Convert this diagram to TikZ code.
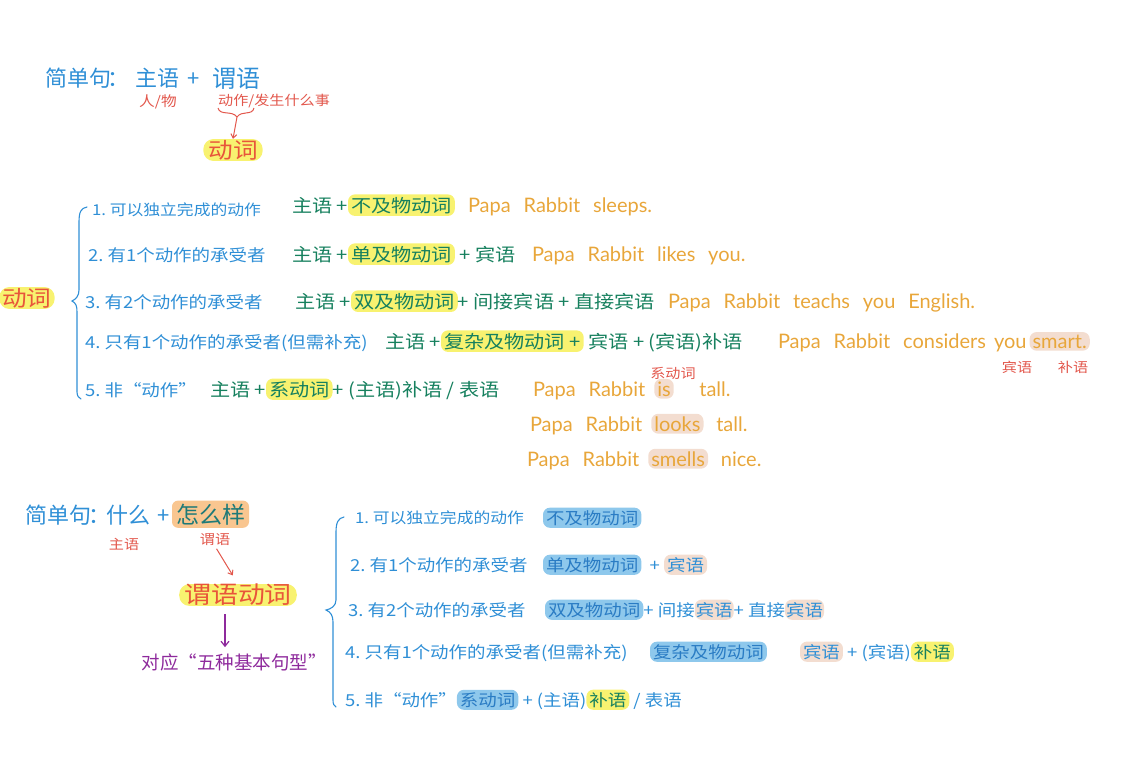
\documentclass[tikz,border=0pt]{standalone}
\usepackage{fontspec}
\setmainfont[FakeStretch=1.12]{Noto Sans CJK SC}
\newfontfamily\cjkn{Noto Sans CJK SC}
\newfontfamily\en[WordSpace=2.5]{Lato}
\usetikzlibrary{arrows.meta}
\definecolor{cblue}{HTML}{2F8FD6}
\definecolor{cblued}{HTML}{2A7CC4}
\definecolor{cred}{HTML}{E2574C}
\definecolor{cverb}{HTML}{E8553A}
\definecolor{cgreen}{HTML}{16805E}
\definecolor{cteal}{HTML}{1F7A78}
\definecolor{corange}{HTML}{E8A63A}
\definecolor{cpurple}{HTML}{8E2A9C}
\definecolor{hyel}{HTML}{F8F270}
\definecolor{hpeach}{HTML}{F3DDD0}
\definecolor{horange}{HTML}{F9C690}
\definecolor{hblue}{HTML}{8EC8EC}
\begin{document}
\begin{tikzpicture}[x=1pt,y=-1pt,
  seg/.style={inner sep=0pt, outer sep=0pt, anchor=base west},
  hd/.style={seg, text=cblue, font=\cjkn\fontsize{22}{22}\selectfont},
  it/.style={seg, text=cblue, font=\fontsize{16.5}{16.5}\selectfont},
  itone/.style={seg, text=cblue, font=\fontsize{15}{15}\selectfont},
  fm/.style={seg, text=cgreen, font=\fontsize{18}{18}\selectfont},
  ex/.style={seg, text=corange, font=\en\fontsize{20}{20}\selectfont},
  note/.style={inner sep=0pt, text=cred, font=\fontsize{13.5}{13.5}\selectfont},
  hY/.style={fill=hyel, rounded corners=7pt, inner xsep=3pt, inner ysep=2.5pt},
  hP/.style={fill=hpeach, rounded corners=7pt, inner xsep=3pt, inner ysep=2.5pt},
  hB/.style={fill=hblue, text=cblued, rounded corners=7pt, inner xsep=3pt, inner ysep=2.5pt},
  hO/.style={fill=horange, rounded corners=6pt, inner xsep=4pt, inner ysep=3pt},
  big/.style={inner xsep=5pt, inner ysep=1pt, text=cverb, font=\fontsize{22}{22}\selectfont},
  bracel/.style={draw=cblue, line width=1.1pt, line cap=round},
  redarr/.style={draw=cred, line width=1pt, -{Straight Barb[length=4pt,width=6pt]}},
  purarr/.style={draw=cpurple, line width=1.2pt, -{Straight Barb[length=5pt,width=8pt]}}]
\useasboundingbox (0,0) rectangle (1123,774);

% ---------- top ----------
\node[hd] (t1) at (45,86) {简单句};
\node[hd] (t1c) at (107,86) {：};
\node[hd] (t2) at (135,86) {主语};
\node[hd] (t3) at (187,86) {+};
\node[hd, font=\cjkn\fontsize{24}{24}\selectfont] (t4) at (212,87) {谓语};
\node[note, font=\fontsize{14}{14}\selectfont] (t2n) at (158,102) {人/物};
\node[note, anchor=west, font=\fontsize{13.5}{13.5}\selectfont] (t4n) at (218,101) {动作/发生什么事};
\draw[draw=cred, line width=1pt] (218,108) .. controls (220,116) and (232,110) .. (237,117) .. controls (242,110) and (252,116) .. (254,108);
\coordinate (tip) at (237,117);
\node[big, fill=hyel, rounded corners=10pt] (dc) at (233,150) {动词};
\draw[redarr] (tip) -- (dc.north);

% ---------- middle ----------
\node[big, fill=hyel, rounded corners=10pt, inner xsep=3pt] (dv) at (27,298) {动词};
\draw[bracel] (87,207) .. controls (81,208) and (79,212) .. (79,222) -- (79,290) .. controls (79,296) and (76,299) .. (72,301) .. controls (76,303) and (77,306) .. (77,312) -- (77,392) .. controls (77,396) and (79,398) .. (81,399);

\node[itone] (m1) at (92,215) {1.\ 可以独立完成的动作};
\node[fm] (f1a) at (292,212) {主语 +};
\node[fm,hY] (f1b) at (f1a.base east) {不及物动词};
\node[ex] (e1) at (468,212) {Papa Rabbit sleeps.};

\node[it] (m2) at (88,261) {2.\ 有1个动作的承受者};
\node[fm] (f2a) at (292,261) {主语 +};
\node[fm,hY] (f2b) at (f2a.base east) {单及物动词};
\node[fm] (f2c) at (f2b.base east) {\ + 宾语};
\node[ex] (e2) at (532,261) {Papa Rabbit likes you.};

\node[it] (m3) at (85,308) {3.\ 有2个动作的承受者};
\node[fm] (f3a) at (295,308) {主语 +};
\node[fm,hY] (f3b) at (f3a.base east) {双及物动词};
\node[fm] (f3c) at (f3b.base east) {+ 间接宾语 + 直接宾语};
\node[ex] (e3) at (668,308) {Papa Rabbit teachs you English.};

\node[it] (m4) at (85,348) {4.\ 只有1个动作的承受者(但需补充)};
\node[fm] (f4a) at (385,348) {主语 +\ };
\node[fm,hY] (f4b) at (f4a.base east) {复杂及物动词 +};
\node[fm] (f4c) at (f4b.base east) {\ 宾语 + (宾语)补语};
\node[ex] (e4a) at (778,348) {Papa Rabbit considers};
\node[ex] (e4b) at (994,348) {you};
\node[ex,hP] (e4c) at ([xshift=3pt]e4b.base east) {smart.};
\node[note] (n4a) at (1017,367) {宾语};
\node[note] (n4b) at (1073,367) {补语};

\node[it] (m5) at (85,396) {5.\ 非“动作”};
\node[fm] (f5a) at (210,396) {主语 +};
\node[fm,hY] (f5b) at (f5a.base east) {系动词};
\node[fm] (f5c) at (f5b.base east) {+ (主语)补语 / 表语};
\node[ex] (e5a) at (533,396) {Papa Rabbit};
\node[ex,hP] (e5b) at ([xshift=9pt]e5a.base east) {is};
\node[ex] (e5c) at (e5b.base east) {\ \ tall.};
\node[note] (n5) at (673,373) {系动词};
\node[ex] (e6a) at (530,431) {Papa Rabbit};
\node[ex,hP] (e6b) at ([xshift=9pt]e6a.base east) {looks};
\node[ex] (e6c) at (e6b.base east) {\ tall.};
\node[ex] (e7a) at (527,466) {Papa Rabbit};
\node[ex,hP] (e7b) at ([xshift=9pt]e7a.base east) {smells};
\node[ex] (e7c) at (e7b.base east) {\ nice.};

% ---------- bottom ----------
\node[hd] (b1) at (25,523) {简单句};
\node[hd] (b1c) at (88,523) {：};
\node[hd] (b2) at (106,523) {什么};
\node[hd] (b3) at (157,523) {+};
\node[hd, hO, text=cteal, font=\cjkn\fontsize{23}{23}\selectfont] (b4) at (172,523) {怎么样};
\node[note] (b2n) at (124,544) {主语};
\node[note] (b4n) at (215,540) {谓语};
\node[big, fill=hyel, rounded corners=10pt, inner ysep=0pt, font=\fontsize{24}{24}\selectfont] (b5) at (238,595) {谓语动词};
\draw[redarr, shorten <=3pt, shorten >=10pt] (b4n.south) -- (b5.north);
\node[inner sep=0pt, text=cpurple, font=\cjkn\fontsize{18.5}{18.5}\selectfont] (b6) at (234,662) {对应“五种基本句型”};
\draw[purarr, shorten <=8pt, shorten >=6pt] (b5.south -| 225,0) -- (b6.north -| 225,0);

\draw[bracel] (344,517) .. controls (338,518) and (336,523) .. (336,532) -- (336,600) .. controls (336,606) and (331,609) .. (326,610) .. controls (331,612) and (333,616) .. (333,622) -- (333,700) .. controls (333,704) and (334,706) .. (336,707);

\node[itone] (c1) at (355,523) {1.\ 可以独立完成的动作};
\node[it,hB] (c1b) at (543,524) {不及物动词};

\node[it] (c2) at (350,571) {2.\ 有1个动作的承受者};
\node[it,hB] (c2b) at (543,571) {单及物动词};
\node[it] (c2c) at (c2b.base east) {\ \ +\ \ };
\node[it,hP] (c2d) at (c2c.base east) {宾语};

\node[it] (c3) at (348,616) {3.\ 有2个动作的承受者};
\node[it,hB] (c3b) at (545,616) {双及物动词};
\node[it] (c3c) at (c3b.base east) {+ 间接};
\node[it,hP,inner xsep=1pt] (c3d) at (c3c.base east) {宾语};
\node[it] (c3e) at (c3d.base east) {+ 直接};
\node[it,hP,inner xsep=1pt] (c3f) at (c3e.base east) {宾语};

\node[it] (c4) at (345,658) {4.\ 只有1个动作的承受者(但需补充)};
\node[it,hB] (c4b) at (650,658) {复杂及物动词};
\node[it,hP] (c4c) at (800,658) {宾语};
\node[it] (c4d) at (c4c.base east) {\ + (宾语)};
\node[it,hY,text=cgreen] (c4e) at (c4d.base east) {补语};

\node[it] (c5) at (345,706) {5.\ 非“动作”};
\node[it,hB] (c5b) at (c5.base east) {系动词};
\node[it] (c5c) at (c5b.base east) {\ + (主语)};
\node[it,hY,text=cgreen] (c5d) at (c5c.base east) {补语};
\node[it] (c5e) at (c5d.base east) {\ / 表语};
\end{tikzpicture}
\end{document}
